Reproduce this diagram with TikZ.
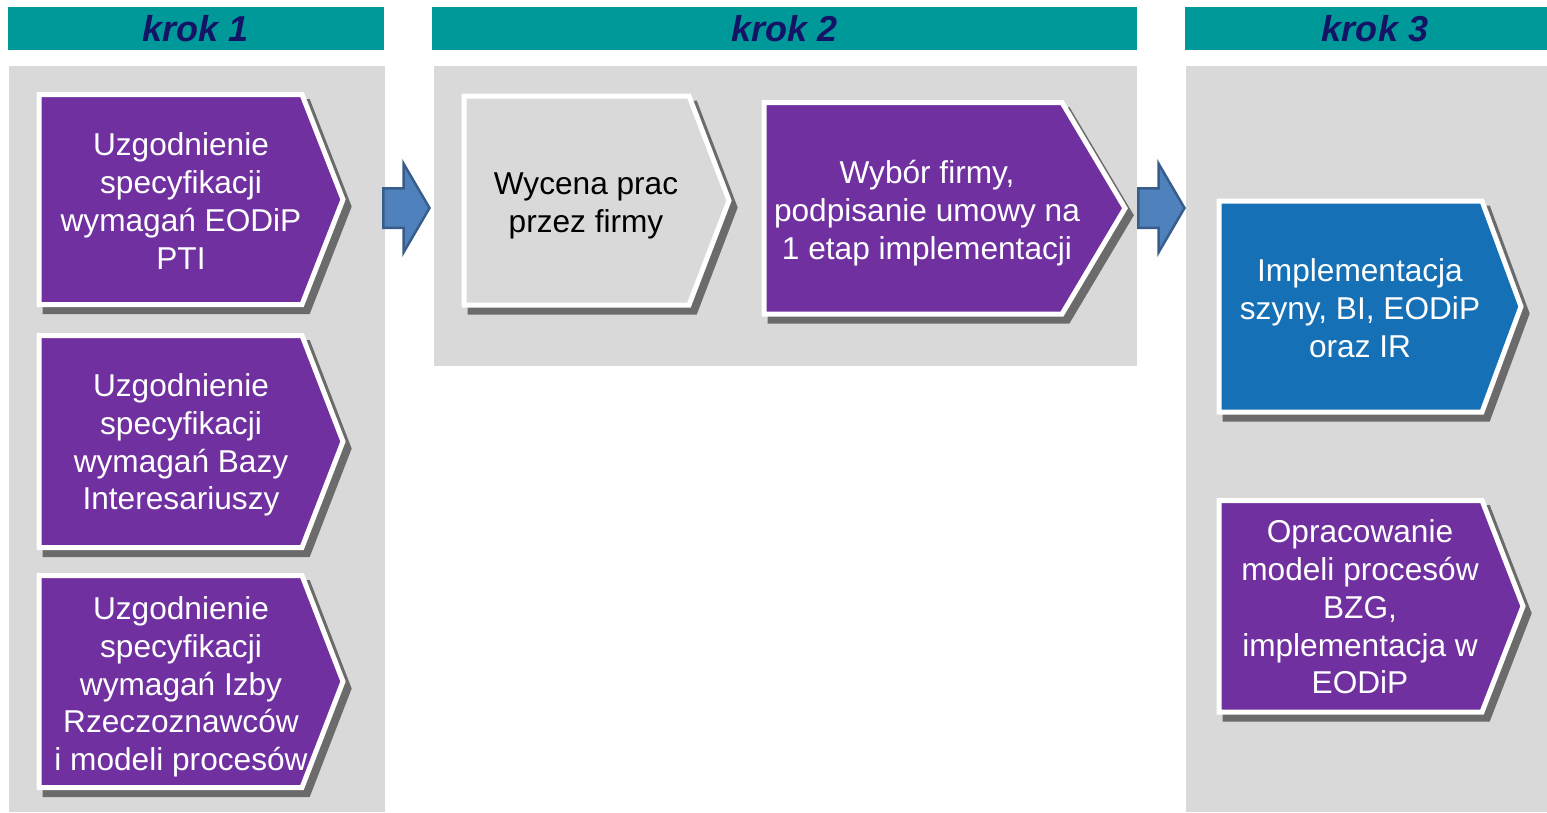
\documentclass[tikz,border=0pt]{standalone}
\usepackage{fontspec}
\setmainfont{Liberation Sans}

\definecolor{krokteal}{HTML}{009999}
\definecolor{krokgray}{HTML}{D9D9D9}
\definecolor{kroknavy}{HTML}{141466}
\definecolor{purpleB}{HTML}{7030A0}
\definecolor{blueB}{HTML}{1570B5}
\definecolor{shadowB}{HTML}{6B6B6B}
\definecolor{arrowfill}{HTML}{4F81BD}
\definecolor{arrowline}{HTML}{385D8A}

\tikzset{
  header/.style={fill=krokteal},
  panel/.style={fill=krokgray},
  krok/.style={text=kroknavy, font=\fontsize{20.5}{24}\selectfont\bfseries\itshape},
  steptext/.style={align=center, text=white, font=\fontsize{18}{21.5}\selectfont},
}

\begin{document}
\begin{tikzpicture}[x=0.02cm,y=-0.02cm]
        \useasboundingbox (0,0) rectangle (1547,812);

        % Headers
        \fill[header] (8,7) rectangle (384,50);
        \fill[header] (432,7) rectangle (1137,50);
        \fill[header] (1185,7) rectangle (1547,50);
        \node[krok] (krok1) at (196,29) {krok 1};
        \node[krok] (krok2) at (785,29) {krok 2};
        \node[krok] (krok3) at (1375,29) {krok 3};

        % Panels
        \fill[panel] (9,66) rectangle (385,812);
        \fill[panel] (434,66) rectangle (1137,366);
        \fill[panel] (1186,66) rectangle (1547,812);

        % Draw steps
        \foreach \xa/\ya/\xs/\xt/\yb/\col in {39/94.5/302/343/304.5/purpleB, 39/335.5/302/343/547.5/purpleB, 39/575.5/302/343/787.5/purpleB, 464/96/689/729/305/krokgray, 764/102.5/1062/1125/314/purpleB, 1219/201/1482/1521/412/blueB, 1219/500.5/1482/1523/712/purpleB} {
            \draw[shadowB, fill=shadowB, line width=0.1cm, shift={(6,7)}] (\xa,\ya) -- (\xs,\ya) -- (\xt,{(\ya+\yb)/2}) -- (\xs,\yb) -- (\xa,\yb) -- cycle;
            \draw[white, fill=\col, line width=0.1cm] (\xa,\ya) -- (\xs,\ya) -- (\xt,{(\ya+\yb)/2}) -- (\xs,\yb) -- (\xa,\yb) -- cycle;
        }

        \node[steptext] (spec1) at (181,201) {Uzgodnienie\\specyfikacji\\wymagań EODiP\\PTI};
        \node[steptext] (spec2) at (181,445) {Uzgodnienie\\specyfikacji\\wymagań Bazy\\Interesariuszy};
        \node[steptext] (spec3) at (181,687) {Uzgodnienie\\specyfikacji\\wymagań Izby\\Rzeczoznawców\\i modeli procesów};
        \node[steptext, text=black] (wycena) at (586,206) {Wycena prac\\przez firmy};
        \node[steptext] (wybor) at (927,213) {Wybór firmy,\\podpisanie umowy na\\1 etap implementacji};
        \node[steptext] (impl) at (1360,308) {Implementacja\\szyny, BI, EODiP\\oraz IR};
        \node[steptext] (oprac) at (1360,607) {Opracowanie\\modeli procesów\\BZG,\\implementacja w\\EODiP};

        % Block arrows between steps
        \coordinate (go1) at (382,208);
        \coordinate (go2) at (1137,208);
        \foreach \a in {go1,go2} {
            \draw[arrowline, fill=arrowfill, line width=0.05cm, shift={(\a)}] (1.25,-19.75) -- (21.5,-19.75) -- (21.5,-44.5) -- (47.5,0) -- (21.5,44.5) -- (21.5,19.75) -- (1.25,19.75) -- cycle;
        }

    \end{tikzpicture}
\end{document}
